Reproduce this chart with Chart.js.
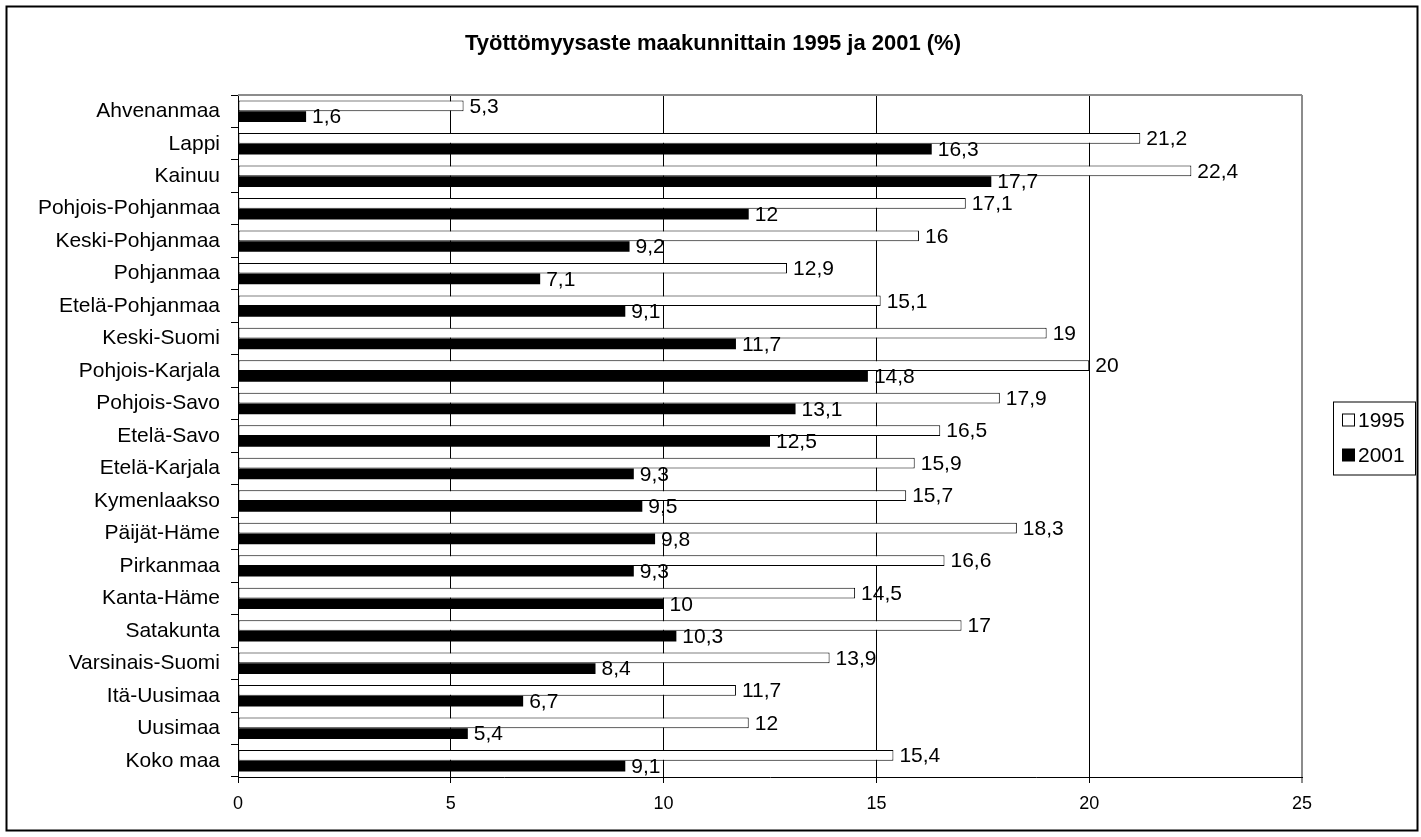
<!DOCTYPE html>
<html>
<head>
<meta charset="utf-8">
<script src="https://cdn.jsdelivr.net/npm/chart.js@4/dist/chart.umd.min.js"></script>
<style>
  body { margin: 0; background: #fff; }
  #wrap { width: 1421px; height: 837px; position: relative; }
</style>
</head>
<body>
<div id="wrap"><canvas id="chart"></canvas></div>
<script>

let regions = ['Ahvenanmaa', 'Lappi', 'Kainuu', 'Pohjois-Pohjanmaa', 'Keski-Pohjanmaa',
  'Pohjanmaa', 'Etelä-Pohjanmaa', 'Keski-Suomi', 'Pohjois-Karjala', 'Pohjois-Savo',
  'Etelä-Savo', 'Etelä-Karjala', 'Kymenlaakso', 'Päijät-Häme', 'Pirkanmaa',
  'Kanta-Häme', 'Satakunta', 'Varsinais-Suomi', 'Itä-Uusimaa', 'Uusimaa', 'Koko maa'];

let rate1995 = [5.3, 21.2, 22.4, 17.1, 16, 12.9, 15.1, 19, 20, 17.9, 16.5,
  15.9, 15.7, 18.3, 16.6, 14.5, 17, 13.9, 11.7, 12, 15.4];

let rate2001 = [1.6, 16.3, 17.7, 12, 9.2, 7.1, 9.1, 11.7, 14.8, 13.1, 12.5,
  9.3, 9.5, 9.8, 9.3, 10, 10.3, 8.4, 6.7, 5.4, 9.1];

let titleText = 'Työttömyysaste maakunnittain 1995 ja 2001 (%)';

const FONT = 'Arial, "Liberation Sans", sans-serif';

// frame, title, plot border, value labels and boxed legend
let extras = {
  id: 'extras',
  beforeDraw(chart) {
    let ctx = chart.ctx;
    ctx.save();
    ctx.fillStyle = '#fff';
    ctx.fillRect(0, 0, chart.width, chart.height);
    ctx.strokeStyle = '#000';
    ctx.lineWidth = 2;
    ctx.strokeRect(6.5, 6.5, 1411, 824);

    ctx.fillStyle = '#000';
    ctx.font = 'bold 22px ' + FONT;
    ctx.textAlign = 'center';
    ctx.textBaseline = 'middle';
    ctx.fillText(titleText, 713, 44);
    ctx.restore();
  },
  beforeDatasetsDraw(chart) {
    let ctx = chart.ctx;
    let a = chart.chartArea;
    ctx.save();
    ctx.strokeStyle = '#8c8c8c';
    ctx.lineWidth = 2;
    ctx.beginPath();
    ctx.moveTo(a.left, a.top);
    ctx.lineTo(a.right, a.top);
    ctx.stroke();
    ctx.restore();
  },
  afterDatasetsDraw(chart) {
    let ctx = chart.ctx;
    ctx.save();
    ctx.font = '21px ' + FONT;
    ctx.fillStyle = '#000';
    ctx.textAlign = 'left';
    ctx.textBaseline = 'middle';
    chart.data.datasets.forEach((ds, i) => {
      chart.getDatasetMeta(i).data.forEach((bar, j) => {
        let txt = String(ds.data[j]).replace('.', ',');
        ctx.fillText(txt, bar.x + 6, bar.y + 1);
      });
    });

    // legend
    let a = chart.chartArea;
    let left = a.right + 31, w = 82, h = 73;
    let top = (a.top + a.bottom) / 2 - h / 2 + 2;
    ctx.strokeStyle = '#000';
    ctx.lineWidth = 1;
    ctx.strokeRect(left + 0.5, top + 0.5, w, h);
    chart.data.datasets.forEach((ds, i) => {
      let cy = top + 19 + i * 35;
      ctx.fillStyle = ds.backgroundColor;
      ctx.fillRect(left + 9.5, cy - 6.5, 12, 12);
      ctx.strokeRect(left + 9.5, cy - 6.5, 12, 12);
      ctx.fillStyle = '#000';
      ctx.fillText(ds.label, left + 25, cy + 1);
    });
    ctx.restore();
  }
};

new Chart(document.getElementById('chart'), {
  type: 'bar',
  data: {
    labels: regions,
    datasets: [
      {
        label: '1995',
        data: rate1995,
        backgroundColor: '#ffffff',
        borderColor: '#000000',
        borderWidth: 1,
        borderSkipped: false,
        categoryPercentage: 0.66,
        barPercentage: 1
      },
      {
        label: '2001',
        data: rate2001,
        backgroundColor: '#000000',
        borderColor: '#000000',
        borderWidth: 0,
        categoryPercentage: 0.66,
        barPercentage: 1
      }
    ]
  },
  options: {
    indexAxis: 'y',
    responsive: true,
    maintainAspectRatio: false,
    animation: false,
    layout: { padding: { left: 8, right: 119, top: 95, bottom: 8 } },
    plugins: {
      legend: { display: false },
      tooltip: { enabled: false },
      title: { display: false }
    },
    scales: {
      x: {
        min: 0,
        max: 25,
        ticks: { stepSize: 5, color: '#000', padding: 10, font: { family: FONT, size: 18 } },
        grid: {
          color: c => (c.tick && c.tick.value === 25) ? '#8c8c8c' : '#000',
          lineWidth: c => (c.tick && c.tick.value === 25) ? 2 : 1,
          tickLength: 6
        },
        border: { color: '#000', width: 1 },
        afterFit: s => { s.height = 52; }
      },
      y: {
        ticks: { color: '#000', padding: 11, font: { family: FONT, size: 21 } },
        grid: { drawOnChartArea: false, color: '#000', tickLength: 7 },
        border: { color: '#000', width: 1 },
        afterFit: s => { s.width = 230; }
      }
    }
  },
  plugins: [extras]
});
</script>
</body>
</html>
